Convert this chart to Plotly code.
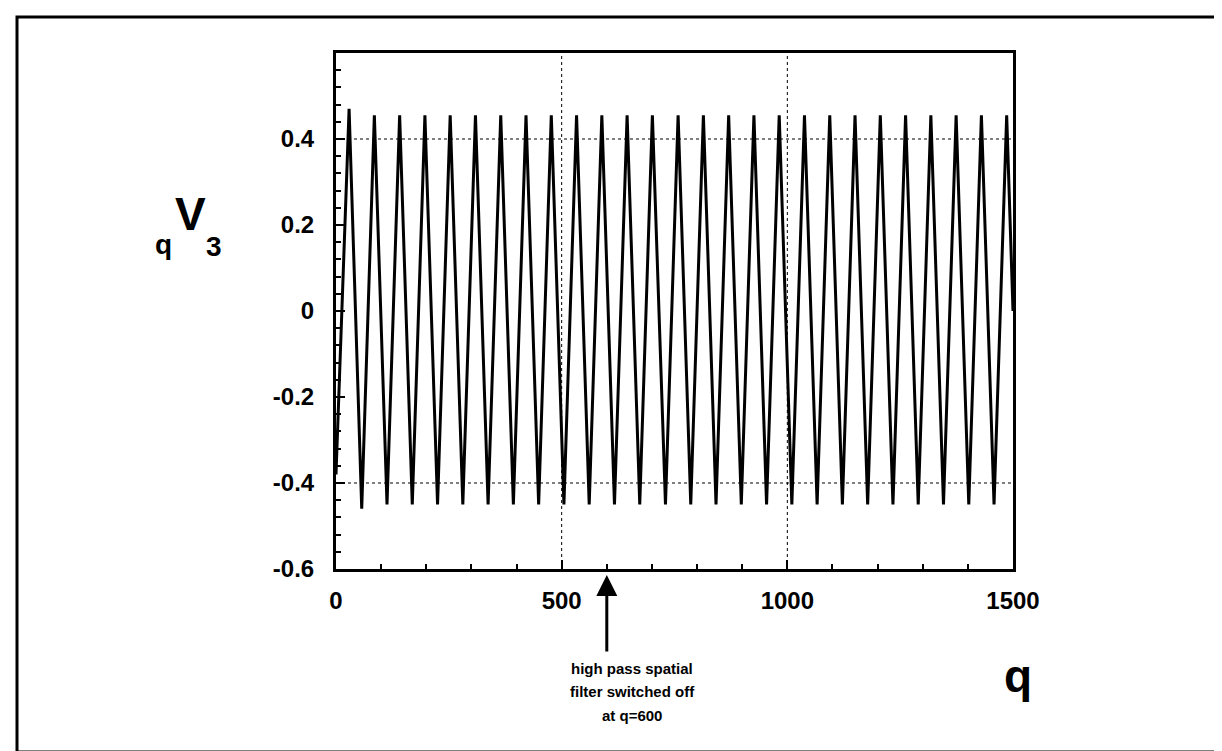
import plotly.graph_objects as go

# ---- data ----
peak_q = [29, 85, 141, 197, 253, 309, 365, 421, 477, 533, 589, 645, 701, 758,
          814, 870, 926, 982, 1038, 1094, 1150, 1206, 1262, 1318, 1374, 1430, 1486]
peak_v = [0.470, 0.455, 0.455, 0.455, 0.455, 0.455, 0.455, 0.455, 0.455, 0.455,
          0.455, 0.455, 0.455, 0.455, 0.455, 0.455, 0.455, 0.455, 0.455, 0.455,
          0.455, 0.455, 0.455, 0.455, 0.455, 0.455, 0.455]
trough_q = [57, 113, 169, 225, 281, 337, 393, 449, 505, 561, 617, 673, 730,
            786, 842, 898, 954, 1010, 1066, 1122, 1178, 1234, 1290, 1346, 1402, 1458]
trough_v = [-0.460, -0.450, -0.450, -0.450, -0.450, -0.450, -0.450, -0.450, -0.450,
            -0.450, -0.450, -0.450, -0.450, -0.450, -0.450, -0.450, -0.450, -0.450,
            -0.450, -0.450, -0.450, -0.450, -0.450, -0.450, -0.450, -0.450]
start_q, start_v = 0, -0.38
end_q, end_v = 1500, 0.0

x_ticks = [0, 500, 1000, 1500]
x_ticktext = ["0", "500", "1000", "1500"]
y_ticks = [-0.6, -0.4, -0.2, 0, 0.2, 0.4]
y_ticktext = ["-0.6", "-0.4", "-0.2", "0", "0.2", "0.4"]
grid_x = [500, 1000]
grid_y = [-0.4, 0.4]
filter_off_q = 600
note_lines = ["high pass spatial", "filter switched off", "at q=600"]

# ---- build series ----
qs = [start_q]
vs = [start_v]
for i, (pq, pv) in enumerate(zip(peak_q, peak_v)):
    qs.append(pq); vs.append(pv)
    if i < len(trough_q):
        qs.append(trough_q[i]); vs.append(trough_v[i])
qs.append(end_q); vs.append(end_v)

W, H = 1222, 751
L, R, T, B = 328, 1005, 45, 561


def px(xp):
    return (xp - L) / (R - L)


def py(yp):
    return (B - yp) / (B - T)


FONT = "Liberation Sans, Arial, Helvetica, sans-serif"

fig = go.Figure()
fig.add_trace(go.Scatter(x=qs, y=vs, mode="lines",
                         line=dict(color="black", width=3), hoverinfo="skip"))

shapes = []
for gx in grid_x:
    shapes.append(dict(type="line", xref="x", yref="paper", x0=gx, x1=gx, y0=0, y1=1,
                       line=dict(color="black", width=1, dash="dot"), layer="below"))
for gy in grid_y:
    shapes.append(dict(type="line", xref="paper", yref="y", x0=0, x1=1, y0=gy, y1=gy,
                       line=dict(color="black", width=1, dash="dot"), layer="below"))
# outer frame
shapes.append(dict(type="rect", xref="paper", yref="paper",
                   x0=px(9), x1=px(1218), y0=py(744), y1=py(9),
                   line=dict(color="black", width=3)))

annotations = [
    dict(x=filter_off_q, y=py(567), xref="x", yref="paper", ax=0, ay=78,
         showarrow=True, arrowhead=2, arrowsize=1.4, arrowwidth=3,
         arrowcolor="black", text=""),
    dict(x=px(1010), y=py(668), xref="paper", yref="paper", showarrow=False,
         text="q", font=dict(family=FONT, size=46, color="black", weight="bold"),
         xanchor="center", yanchor="middle"),
    dict(x=px(155), y=py(236), xref="paper", yref="paper", showarrow=False,
         text="q", font=dict(family=FONT, size=28, color="black", weight="bold"),
         xanchor="center", yanchor="middle"),
    dict(x=px(182), y=py(206), xref="paper", yref="paper", showarrow=False,
         text="V", font=dict(family=FONT, size=46, color="black", weight="bold"),
         xanchor="center", yanchor="middle"),
    dict(x=px(206), y=py(238), xref="paper", yref="paper", showarrow=False,
         text="3", font=dict(family=FONT, size=28, color="black", weight="bold"),
         xanchor="center", yanchor="middle"),
]
for line_text, ypix in zip(note_lines, [660, 683, 707]):
    annotations.append(dict(x=px(624), y=py(ypix), xref="paper", yref="paper",
                            showarrow=False, text=line_text,
                            font=dict(family=FONT, size=15, color="black", weight="bold"),
                            xanchor="center", yanchor="middle"))

fig.update_layout(
    width=W, height=H,
    margin=dict(l=L, r=W - R, t=T, b=H - B, pad=0),
    paper_bgcolor="white", plot_bgcolor="white",
    showlegend=False,
    shapes=shapes,
    annotations=annotations,
    xaxis=dict(range=[0, 1500], tickvals=x_ticks, ticktext=x_ticktext,
               showgrid=False, zeroline=False, showline=True, mirror=True,
               linecolor="black", linewidth=3, ticks="inside", ticklen=9,
               tickwidth=2, tickcolor="black", ticklabelstandoff=8,
               tickfont=dict(family=FONT, size=24, color="black", weight="bold"),
               minor=dict(dtick=100, tick0=0, ticks="inside", ticklen=5,
                          tickwidth=2, tickcolor="black", showgrid=False)),
    yaxis=dict(range=[-0.6, 0.6], tickvals=y_ticks, ticktext=y_ticktext,
               showgrid=False, zeroline=False, showline=True, mirror=True,
               linecolor="black", linewidth=3, ticks="inside", ticklen=9,
               tickwidth=2, tickcolor="black", ticklabelstandoff=14,
               tickfont=dict(family=FONT, size=24, color="black", weight="bold"),
               minor=dict(dtick=0.04, tick0=-0.6, ticks="inside", ticklen=5,
                          tickwidth=2, tickcolor="black", showgrid=False)),
)

fig.write_html("out.html")
